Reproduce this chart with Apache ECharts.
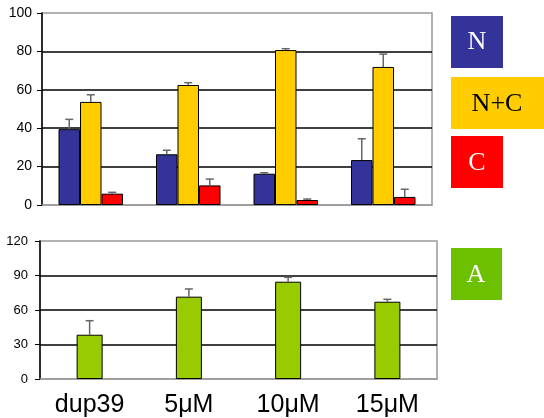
<!DOCTYPE html>
<html>
<head>
<meta charset="utf-8">
<script src="https://cdn.jsdelivr.net/npm/echarts@6/dist/echarts.min.js"></script>
<style>
  html, body { margin: 0; padding: 0; background: #fff; }
  #main { width: 544px; height: 418px; }
</style>
</head>
<body>
<div id="main"></div>
<script>
var categories = ['dup39', '5\u03bcM', '10\u03bcM', '15\u03bcM']

// top panel (0-100)
var nValues = [39.5, 26.4, 16.3, 23.4]
var nErr = [44.6, 28.5, 16.8, 34.5]
var ncValues = [53.7, 62.5, 80.7, 71.9]
var ncErr = [57.4, 63.7, 81.4, 78.6]
var cValues = [5.9, 10.2, 2.6, 4.2]
var cErr = [6.6, 13.5, 3.1, 8.2]

// bottom panel (0-120)
var aValues = [38.5, 71.6, 84.6, 67.2]
var aErr = [50.7, 78.3, 88.4, 69.3]

var topTicks = [0, 20, 40, 60, 80, 100]
var bottomTicks = [0, 30, 60, 90, 120]

var barW = 21.5

function errSeries (name, vals, errs, xIdx, yIdx, k) {
  return {
    name: name + ' err',
    type: 'custom',
    xAxisIndex: xIdx,
    yAxisIndex: yIdx,
    z: 5,
    data: vals.map(function (v, i) { return [i, v, errs[i]] }),
    renderItem: function (params, api) {
      var base = api.coord([api.value(0), api.value(1)])
      var top = api.coord([api.value(0), api.value(2)])
      var x = base[0] + k * barW
      return {
        type: 'group',
        children: [
          { type: 'line', shape: { x1: x, y1: base[1], x2: x, y2: top[1] }, style: { stroke: '#666', lineWidth: 1.5 } },
          { type: 'line', shape: { x1: x - 4, y1: top[1], x2: x + 4, y2: top[1] }, style: { stroke: '#666', lineWidth: 1.5 } }
        ]
      }
    }
  }
}

function barSeries (name, vals, color, xIdx, yIdx, w) {
  return {
    name: name,
    type: 'bar',
    xAxisIndex: xIdx,
    yAxisIndex: yIdx,
    barWidth: w,
    barGap: '0%',
    data: vals,
    itemStyle: { color: color, borderColor: '#000', borderWidth: 1 }
  }
}

var myChart = echarts.init(document.getElementById('main'))
var option = {
  animation: false,
  backgroundColor: '#fff',
  grid: [
    { left: 42, top: 13, right: 112, bottom: 213, show: true, borderColor: '#999', borderWidth: 1.5 },
    { left: 40, top: 241, right: 107, bottom: 39, show: true, borderColor: '#999', borderWidth: 1.5 }
  ],
  xAxis: [
    {
      type: 'category', gridIndex: 0, data: categories,
      axisLine: { lineStyle: { color: '#999', width: 1.5 } },
      axisTick: { show: false }, axisLabel: { show: false }
    },
    {
      type: 'category', gridIndex: 1, data: categories,
      axisLine: { lineStyle: { color: '#999', width: 1.5 } },
      axisTick: { show: false },
      axisLabel: { color: '#000', fontSize: 25, fontFamily: 'Liberation Sans, Arial', margin: 14 }
    }
  ],
  yAxis: [
    {
      type: 'value', gridIndex: 0, min: topTicks[0], max: topTicks[topTicks.length - 1], interval: 20,
      axisLine: { show: true, lineStyle: { color: '#000', width: 1.5 } },
      axisTick: { show: true, length: 5, lineStyle: { color: '#000' } },
      axisLabel: { color: '#000', fontSize: 14, fontFamily: 'Liberation Sans, Arial', margin: 10 },
      splitLine: { show: true, showMinLine: false, showMaxLine: false, lineStyle: { color: '#000', width: 1.5 } }
    },
    {
      type: 'value', gridIndex: 1, min: bottomTicks[0], max: bottomTicks[bottomTicks.length - 1], interval: 30,
      axisLine: { show: true, lineStyle: { color: '#000', width: 1.5 } },
      axisTick: { show: true, length: 5, lineStyle: { color: '#000' } },
      axisLabel: { color: '#000', fontSize: 13, fontFamily: 'Liberation Sans, Arial', margin: 12 },
      splitLine: { show: true, showMinLine: false, showMaxLine: false, lineStyle: { color: '#000', width: 1.5 } }
    }
  ],
  series: [
    barSeries('N', nValues, '#333399', 0, 0, barW),
    barSeries('N+C', ncValues, '#FFCC00', 0, 0, barW),
    barSeries('C', cValues, '#FF0000', 0, 0, barW),
    errSeries('N', nValues, nErr, 0, 0, -1),
    errSeries('N+C', ncValues, ncErr, 0, 0, 0),
    errSeries('C', cValues, cErr, 0, 0, 1),
    barSeries('A', aValues, '#99CC00', 1, 1, 26),
    errSeries('A', aValues, aErr, 1, 1, 0)
  ],
  graphic: [
    { type: 'rect', left: 451, top: 16, shape: { width: 52, height: 52 }, style: { fill: '#333399' } },
    { type: 'text', x: 477, y: 42, style: { text: 'N', fill: '#fff', font: '26px "Liberation Serif", serif', align: 'center', verticalAlign: 'middle' } },
    { type: 'rect', left: 451, top: 77, shape: { width: 93, height: 52 }, style: { fill: '#FFCC00' } },
    { type: 'text', x: 497, y: 104, style: { text: 'N+C', fill: '#000', font: '26px "Liberation Serif", serif', align: 'center', verticalAlign: 'middle' } },
    { type: 'rect', left: 451, top: 136, shape: { width: 52, height: 52 }, style: { fill: '#FF0000' } },
    { type: 'text', x: 477, y: 163, style: { text: 'C', fill: '#fff', font: '26px "Liberation Serif", serif', align: 'center', verticalAlign: 'middle' } },
    { type: 'rect', left: 451, top: 248, shape: { width: 51, height: 52 }, style: { fill: '#6CC000' } },
    { type: 'text', x: 476, y: 275, style: { text: 'A', fill: '#fff', font: '26px "Liberation Serif", serif', align: 'center', verticalAlign: 'middle' } }
  ]
}
myChart.setOption(option)
</script>
</body>
</html>
